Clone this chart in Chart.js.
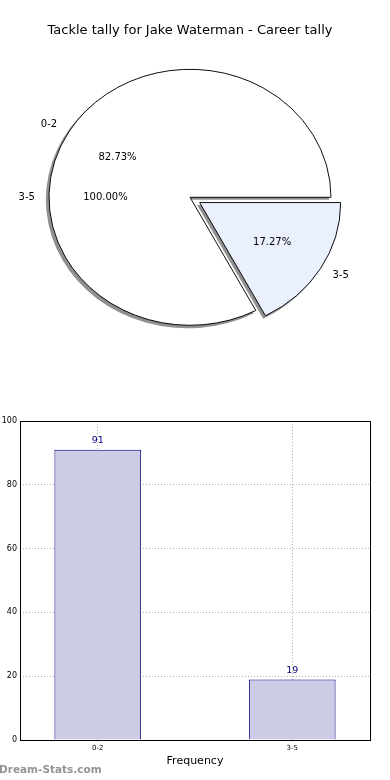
<!DOCTYPE html>
<html>
<head>
<meta charset="utf-8">
<script src="https://cdn.jsdelivr.net/npm/chart.js@4.4.1/dist/chart.umd.min.js"></script>
<style>
html,body{margin:0;padding:0;background:#fff;}
#pie_wrap{position:absolute;left:0;top:0;width:390px;height:400px;}
#bar_wrap{position:absolute;left:0;top:400px;width:390px;height:380px;}
</style>
</head>
<body>
<div id="pie_wrap"><canvas id="pie_canvas" width="390" height="400"></canvas></div>
<div id="bar_wrap"><canvas id="bar_canvas" width="390" height="380"></canvas></div>
<script>
// DATA
const categories = ['0-2','3-5'];
const counts = [91,19];
// stray single-slice pie label that shows up under the real one
const ghost_labels = ['3-5'];
const ghost_counts = [19];
const y_ticks = [0,20,40,60,80,100];

const title_text = 'Tackle tally for Jake Waterman - Career tally';

// PIE CHART
const total = counts.reduce((a,b)=>a+b,0);
const pie_radius = 128;
const x_stretch = 141/128;
const explode = [0,0.08];
const pie_font = '10px "DejaVu Sans"';

function pct(v,sum){ return (v*100/sum).toFixed(2)+'%'; }

const pie_plugin = {
    id:'pie_draw',
    beforeDatasetDraw(chart,args){
        const ctx = chart.ctx;
        const arcs = args.meta.data;
        const cx = arcs[0].x, cy = arcs[0].y;
        ctx.save();
        ctx.translate(cx,cy);
        ctx.scale(x_stretch,1);
        ctx.translate(-cx,-cy);
        // shadows first
        arcs.forEach((arc,i)=>{
            const mid = (arc.startAngle+arc.endAngle)/2;
            const d = explode[i]*pie_radius;
            const ox = cx+Math.cos(mid)*d-2.3, oy = cy+Math.sin(mid)*d+2.5;
            ctx.beginPath();
            ctx.moveTo(ox,oy);
            ctx.arc(ox,oy,arc.outerRadius+0.5,arc.startAngle,arc.endAngle);
            ctx.closePath();
            ctx.fillStyle = 'rgba(70,70,70,0.6)';
            ctx.fill();
        });
        arcs.forEach((arc,i)=>{
            const mid = (arc.startAngle+arc.endAngle)/2;
            const d = explode[i]*pie_radius;
            ctx.save();
            ctx.translate(Math.cos(mid)*d,Math.sin(mid)*d);
            arc.draw(ctx,chart.chartArea);
            ctx.restore();
        });
        ctx.restore();
        return false;
    },
    afterDraw(chart){
        const ctx = chart.ctx;
        const arcs = chart.getDatasetMeta(0).data;
        const cx = arcs[0].x, cy = arcs[0].y;
        ctx.save();
        ctx.font = pie_font;
        ctx.fillStyle = '#000';
        ctx.textBaseline = 'middle';
        function put(text,ang,dist,align){
            ctx.textAlign = align;
            ctx.fillText(text, cx+Math.cos(ang)*dist*x_stretch, cy+Math.sin(ang)*dist);
        }
        // ghost pie: one full slice starting at 3 o'clock
        const gsum = ghost_counts.reduce((a,b)=>a+b,0);
        let ga = 0;
        ghost_labels.forEach((lab,i)=>{
            const sweep = ghost_counts[i]/gsum*Math.PI*2;
            const mid = -(ga+sweep/2);
            ga += sweep;
            put(lab,mid,pie_radius*1.1,Math.cos(mid)>0?'left':'right');
            put(pct(ghost_counts[i],gsum),mid,pie_radius*0.6,'center');
        });
        arcs.forEach((arc,i)=>{
            const mid = (arc.startAngle+arc.endAngle)/2;
            const d = explode[i]*pie_radius;
            put(categories[i],mid,pie_radius*1.1+d,Math.cos(mid)>0?'left':'right');
            put(pct(counts[i],total),mid,pie_radius*0.6+d,'center');
        });
        ctx.restore();
    }
};

const pie_config = {
    type:'pie',
    data:{
        labels:categories,
        datasets:[{
            data:counts,
            backgroundColor:['#ffffff','#ebf0ff'],
            borderColor:'#000',
            borderWidth:0.9,
        }],
    },
    options:{
        responsive:false,
        animation:false,
        events:[],
        radius:pie_radius,
        rotation:90+360*counts[1]/total,
        layout:{padding:{left:0,right:10,top:0,bottom:54}},
        plugins:{
            legend:{display:false},
            tooltip:{enabled:false},
            title:{
                display:true,
                text:title_text,
                color:'#000',
                font:{family:'DejaVu Sans',size:13,weight:'normal'},
                padding:{top:23,bottom:10},
            },
        },
    },
    plugins:[pie_plugin],
};
const pie_chart = new Chart(document.getElementById('pie_canvas'),pie_config);

// BAR CHART
const bar_plugin = {
    id:'bar_extra',
    afterDraw(chart){
        const ctx = chart.ctx;
        const a = chart.chartArea;
        ctx.save();
        ctx.strokeStyle = '#000';
        ctx.lineWidth = 1;
        ctx.strokeRect(Math.round(a.left)+0.5,Math.round(a.top)+0.5,Math.round(a.right-a.left),Math.round(a.bottom-a.top));
        // values above bars
        ctx.font = '9.5px "DejaVu Sans"';
        ctx.fillStyle = '#000080';
        ctx.textAlign = 'center';
        ctx.textBaseline = 'middle';
        chart.getDatasetMeta(0).data.forEach((bar,i)=>{
            ctx.fillText(String(counts[i]),bar.x,bar.y-9);
        });
        // watermark
        ctx.font = 'bold 10.5px "DejaVu Sans"';
        ctx.fillStyle = 'rgba(120,120,120,0.8)';
        ctx.textAlign = 'left';
        ctx.fillText('Dream-Stats.com',-1,370);
        ctx.restore();
    }
};

const bar_config = {
    type:'bar',
    data:{
        datasets:[{
            data:counts.map((v,i)=>({x:i,y:v})),
            backgroundColor:'#ccccE6',
            borderColor:'#000080',
            borderWidth:1,
            barPercentage:0.446,
            categoryPercentage:1,
        }],
    },
    options:{
        responsive:false,
        animation:false,
        events:[],
        layout:{padding:{left:0,right:20,top:21,bottom:12}},
        plugins:{legend:{display:false},tooltip:{enabled:false}},
        scales:{
            x:{
                type:'linear',
                min:-0.4,
                max:1.4,
                offset:false,
                z:1,
                grid:{color:'#b0b0b0',lineWidth:1,drawTicks:false,offset:false},
                border:{display:false,dash:[1,2]},
                afterBuildTicks(scale){ scale.ticks = categories.map((c,i)=>({value:i})); },
                afterFit(scale){ scale.height = 28; },
                ticks:{
                    autoSkip:false,
                    maxRotation:0,
                    padding:4,
                    color:'#000',
                    font:{family:'DejaVu Sans',size:7},
                    callback:(v)=>categories[v],
                },
                title:{
                    display:true,
                    text:'Frequency',
                    color:'#000',
                    font:{family:'DejaVu Sans',size:11},
                    padding:{top:0,bottom:0},
                },
            },
            y:{
                min:0,
                max:100,
                z:1,
                grid:{color:'#b0b0b0',lineWidth:1,drawTicks:false},
                border:{display:false,dash:[1,2]},
                afterBuildTicks(scale){ scale.ticks = y_ticks.map(v=>({value:v})); },
                afterFit(scale){ scale.width = 20; },
                ticks:{
                    padding:3,
                    color:'#000',
                    font:{family:'DejaVu Sans',size:8},
                },
            },
        },
    },
    plugins:[bar_plugin],
};
const bar_chart = new Chart(document.getElementById('bar_canvas'),bar_config);
</script>
</body>
</html>
